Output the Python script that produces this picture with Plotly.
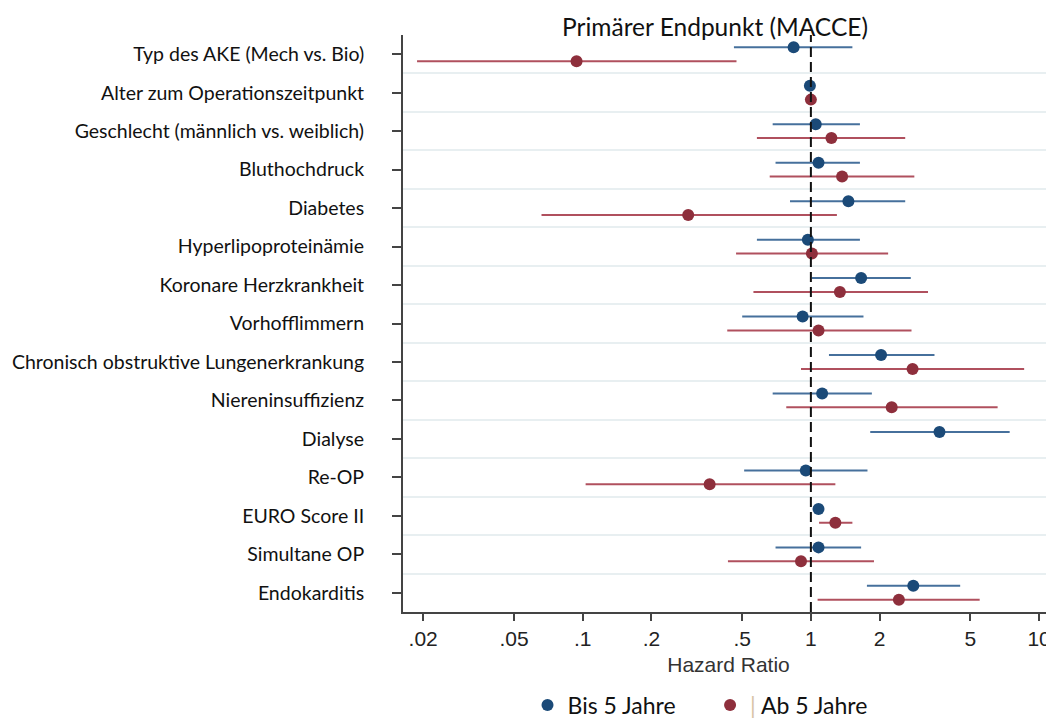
import plotly.graph_objects as go

categories = [
    "Typ des AKE (Mech vs. Bio)",
    "Alter zum Operationszeitpunkt",
    "Geschlecht (männlich vs. weiblich)",
    "Bluthochdruck",
    "Diabetes",
    "Hyperlipoproteinämie",
    "Koronare Herzkrankheit",
    "Vorhofflimmern",
    "Chronisch obstruktive Lungenerkrankung",
    "Niereninsuffizienz",
    "Dialyse",
    "Re-OP",
    "EURO Score II",
    "Simultane OP",
    "Endokarditis",
]

# Bis 5 Jahre (hazard ratio, lower CI, upper CI)
hr_bis = [0.84, 0.99, 1.05, 1.08, 1.46, 0.97, 1.66, 0.92, 2.03, 1.12, 3.66, 0.95, 1.08, 1.08, 2.81]
lo_bis = [0.46, 0.98, 0.68, 0.70, 0.81, 0.58, 1.01, 0.50, 1.20, 0.68, 1.82, 0.51, 1.05, 0.70, 1.76]
hi_bis = [1.52, 1.01, 1.64, 1.64, 2.59, 1.64, 2.74, 1.70, 3.48, 1.85, 7.43, 1.77, 1.11, 1.66, 4.51]

# Ab 5 Jahre (None = no estimate)
hr_ab = [0.094, 1.00, 1.23, 1.37, 0.29, 1.01, 1.34, 1.08, 2.79, 2.26, None, 0.36, 1.28, 0.905, 2.43]
lo_ab = [0.0188, 0.99, 0.58, 0.66, 0.066, 0.47, 0.56, 0.43, 0.905, 0.78, None, 0.103, 1.086, 0.433, 1.07]
hi_ab = [0.472, 1.01, 2.59, 2.84, 1.30, 2.18, 3.26, 2.76, 8.6, 6.58, None, 1.28, 1.52, 1.89, 5.49]

x_ticks = [0.02, 0.05, 0.1, 0.2, 0.5, 1, 2, 5, 10]
x_ticktext = [".02", ".05", ".1", ".2", ".5", "1", "2", "5", "10"]

OFFSET = 0.18
BLUE = "#1b4a78"
BLUE_LINE = "#46709c"
RED = "#8e2f3c"
RED_LINE = "#b0505e"

# page has an 8px body margin; figure is sized to fill the rest of the window
W, H = 1046, 714

idx = list(range(len(categories)))

def series(hr, lo, hi, shift):
    xs, ys, plus, minus = [], [], [], []
    for i, h, l, u in zip(idx, hr, lo, hi):
        if h is None:
            continue
        xs.append(h)
        ys.append(i + shift)
        plus.append(u - h)
        minus.append(h - l)
    return xs, ys, plus, minus

fig = go.Figure()

xb, yb, pb, mb = series(hr_bis, lo_bis, hi_bis, -OFFSET)
fig.add_trace(go.Scatter(
    x=xb, y=yb, mode="markers", name="Bis 5 Jahre     ",
    marker=dict(color=BLUE, size=12),
    error_x=dict(type="data", array=pb, arrayminus=mb, color=BLUE_LINE,
                 thickness=2, width=0),
))

xa, ya, pa, ma = series(hr_ab, lo_ab, hi_ab, OFFSET)
fig.add_trace(go.Scatter(
    x=xa, y=ya, mode="markers",
    name="<span style='color:#d8c3a6'>|</span> Ab 5 Jahre",
    marker=dict(color=RED, size=12),
    error_x=dict(type="data", array=pa, arrayminus=ma, color=RED_LINE,
                 thickness=2, width=0),
))

fig.add_shape(type="line", xref="x", yref="paper", x0=1, x1=1, y0=0, y1=1,
              line=dict(color="#111111", width=2, dash="10px,5px"), layer="above")

fig.update_layout(
    width=W, height=H,
    margin=dict(l=395, r=0, t=27, b=110),
    paper_bgcolor="white", plot_bgcolor="white",
    title=dict(text="Primärer Endpunkt (MACCE)", x=(715 - 8) / W, xanchor="center",
               y=1 - (27 - 8) / H, yanchor="middle",
               font=dict(family="Lato", size=24.5, color="#111111")),
    showlegend=True,
    legend=dict(orientation="h", xref="container", yref="container",
                x=(700 - 8) / W, xanchor="center",
                y=1 - (705 - 8) / H, yanchor="middle",
                font=dict(family="Lato", size=23, color="#111111"),
                itemwidth=30, tracegroupgap=0),
    xaxis=dict(
        type="log", range=[-1.7874, 1.0653],
        tickvals=x_ticks, ticktext=x_ticktext,
        showgrid=False, zeroline=False,
        showline=True, linecolor="#444444", linewidth=2,
        ticks="outside", ticklen=7, tickwidth=2, tickcolor="#444444",
        tickfont=dict(family="Liberation Sans", size=21, color="#222222"),
        title=dict(text="Hazard Ratio", standoff=8,
                   font=dict(family="Liberation Sans", size=21, color="#333333")),
    ),
    yaxis=dict(
        range=[14.5, -0.5],
        tickvals=idx, ticktext=categories,
        showgrid=False, zeroline=False,
        showline=True, linecolor="#444444", linewidth=2,
        ticks="outside", ticklen=9, tickwidth=2, tickcolor="#444444",
        ticklabelstandoff=24,
        tickfont=dict(family="Lato", size=19.5, color="#111111"),
        minor=dict(tickvals=[i + 0.5 for i in idx[:-1]], showgrid=True,
                   gridcolor="#e8eff1", gridwidth=2, ticks=""),
    ),
)

fig.write_html("out.html")
